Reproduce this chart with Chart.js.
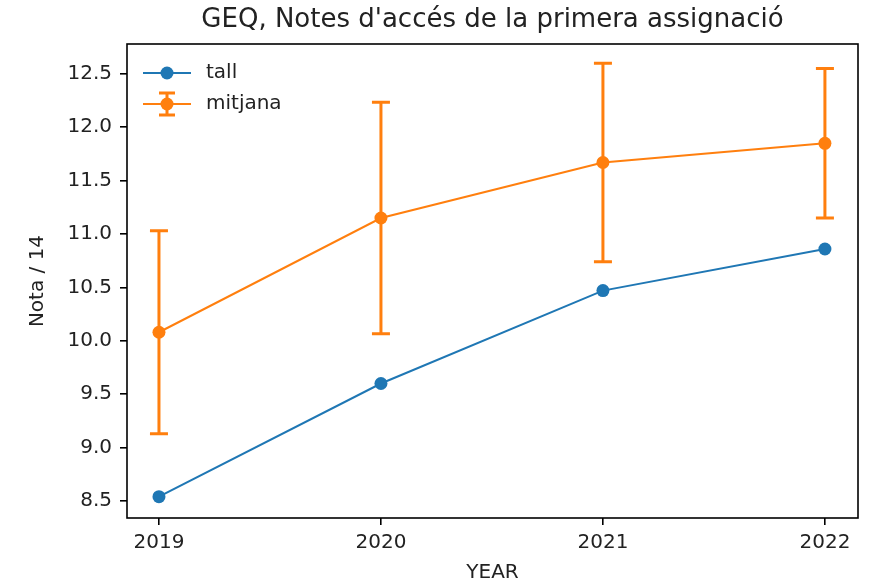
<!DOCTYPE html>
<html>
<head>
<meta charset="utf-8">
<script src="https://cdn.jsdelivr.net/npm/chart.js@4/dist/chart.umd.min.js"></script>
<style>
  html, body { margin: 0; padding: 0; background: #fff; }
  canvas { display: block; }
</style>
</head>
<body>
<canvas id="chart" width="871" height="585"></canvas>
<script>
// values
const years = [2019, 2020, 2021, 2022];
const tallValues = [8.54, 9.60, 10.47, 10.86];
const mitjanaValues = [10.08, 11.15, 11.67, 11.85];
const mitjanaErr = [0.95, 1.085, 0.93, 0.70];
const yTicks = [8.5, 9.0, 9.5, 10.0, 10.5, 11.0, 11.5, 12.0, 12.5];

const titleText = "GEQ, Notes d'accés de la primera assignació";
const blue = '#1f77b4';
const orange = '#ff7f0e';
const font = "'DejaVu Sans', sans-serif";

// error bars, frame, title and legend drawn in matplotlib style
const mplPlugin = {
    id: 'mpl',
    beforeDatasetsDraw(chart) {
        const ctx = chart.ctx;
        const x = chart.scales.x, y = chart.scales.y;
        ctx.save();
        ctx.strokeStyle = orange;
        ctx.lineWidth = 3;
        years.forEach((yr, i) => {
            const px = x.getPixelForValue(yr);
            const top = y.getPixelForValue(mitjanaValues[i] + mitjanaErr[i]);
            const bot = y.getPixelForValue(mitjanaValues[i] - mitjanaErr[i]);
            ctx.beginPath();
            ctx.moveTo(px, top); ctx.lineTo(px, bot);
            ctx.moveTo(px - 9, top); ctx.lineTo(px + 9, top);
            ctx.moveTo(px - 9, bot); ctx.lineTo(px + 9, bot);
            ctx.stroke();
        });
        ctx.restore();
    },
    afterDraw(chart) {
        const ctx = chart.ctx;
        const a = chart.chartArea;
        ctx.save();
        // frame
        ctx.strokeStyle = '#000';
        ctx.lineWidth = 1.6;
        ctx.strokeRect(a.left, a.top, a.right - a.left, a.bottom - a.top);

        // title
        ctx.fillStyle = '#222';
        ctx.font = '26px ' + font;
        ctx.textAlign = 'center';
        ctx.textBaseline = 'middle';
        ctx.fillText(titleText, (a.left + a.right) / 2, 20);

        // legend
        ctx.font = '20px ' + font;
        ctx.textAlign = 'left';
        const lx = a.left + 16, ly1 = 73, ly2 = 104;
        ctx.strokeStyle = blue;
        ctx.fillStyle = blue;
        ctx.lineWidth = 2;
        ctx.beginPath(); ctx.moveTo(lx, ly1); ctx.lineTo(lx + 48, ly1); ctx.stroke();
        ctx.beginPath(); ctx.arc(lx + 24, ly1, 6.5, 0, Math.PI * 2); ctx.fill();

        ctx.strokeStyle = orange;
        ctx.fillStyle = orange;
        ctx.beginPath(); ctx.moveTo(lx, ly2); ctx.lineTo(lx + 48, ly2); ctx.stroke();
        ctx.lineWidth = 3;
        ctx.beginPath();
        ctx.moveTo(lx + 24, ly2 - 11); ctx.lineTo(lx + 24, ly2 + 11);
        ctx.moveTo(lx + 16, ly2 - 11); ctx.lineTo(lx + 32, ly2 - 11);
        ctx.moveTo(lx + 16, ly2 + 11); ctx.lineTo(lx + 32, ly2 + 11);
        ctx.stroke();
        ctx.beginPath(); ctx.arc(lx + 24, ly2, 6.5, 0, Math.PI * 2); ctx.fill();

        ctx.fillStyle = '#222';
        ctx.fillText(chart.data.datasets[0].label, lx + 63, ly1);
        ctx.fillText(chart.data.datasets[1].label, lx + 63, ly2);
        ctx.restore();
    }
};

const toPoints = vals => years.map((yr, i) => ({ x: yr, y: vals[i] }));

new Chart(document.getElementById('chart'), {
    type: 'line',
    data: {
        datasets: [
            {
                label: 'tall',
                data: toPoints(tallValues),
                borderColor: blue,
                backgroundColor: blue,
                borderWidth: 2,
                pointRadius: 6.5,
                pointHoverRadius: 6.5,
                pointBorderWidth: 0,
                tension: 0
            },
            {
                label: 'mitjana',
                data: toPoints(mitjanaValues),
                borderColor: orange,
                backgroundColor: orange,
                borderWidth: 2,
                pointRadius: 6.5,
                pointHoverRadius: 6.5,
                pointBorderWidth: 0,
                tension: 0
            }
        ]
    },
    options: {
        responsive: false,
        animation: false,
        devicePixelRatio: 1,
        layout: { padding: { top: 44, right: 13, left: 0, bottom: 0 } },
        plugins: {
            legend: { display: false },
            title: { display: false },
            tooltip: { enabled: false }
        },
        scales: {
            x: {
                type: 'linear',
                min: 2018.856,
                max: 2022.149,
                afterFit: s => { s.height = 67; },
                afterBuildTicks: s => { s.ticks = years.map(v => ({ value: v })); },
                grid: { drawOnChartArea: false, drawTicks: true, tickLength: 7, color: '#000', lineWidth: 1.6 },
                border: { display: false },
                ticks: {
                    color: '#222',
                    padding: 6,
                    maxRotation: 0,
                    font: { family: font, size: 20 },
                    callback: v => String(v)
                },
                title: {
                    display: true,
                    text: 'YEAR',
                    color: '#222',
                    font: { family: font, size: 20, lineHeight: 1.2 },
                    padding: { top: 0, bottom: 0 }
                }
            },
            y: {
                type: 'linear',
                min: 8.34,
                max: 12.78,
                afterFit: s => { s.width = 127; },
                afterBuildTicks: s => { s.ticks = yTicks.map(v => ({ value: v })); },
                grid: { drawOnChartArea: false, drawTicks: true, tickLength: 7, color: '#000', lineWidth: 1.6 },
                border: { display: false },
                ticks: {
                    color: '#222',
                    padding: 8,
                    font: { family: font, size: 20 },
                    callback: v => v.toFixed(1)
                },
                title: {
                    display: true,
                    text: 'Nota / 14',
                    color: '#222',
                    font: { family: font, size: 20, lineHeight: 1.2 },
                    padding: { top: 26, bottom: 0 }
                }
            }
        }
    },
    plugins: [mplPlugin]
});
</script>
</body>
</html>
